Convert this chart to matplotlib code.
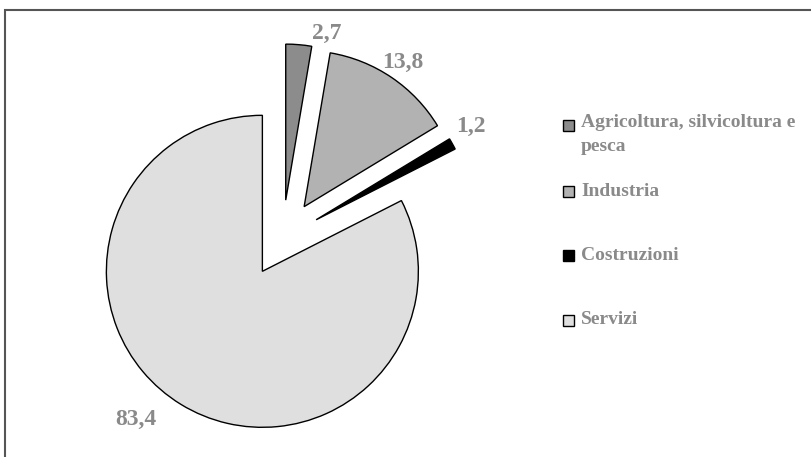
import math
import matplotlib
matplotlib.use("Agg")
import matplotlib.pyplot as plt
from matplotlib.patches import Rectangle

categories = ["Agricoltura, silvicoltura e\npesca", "Industria", "Costruzioni", "Servizi"]
values = [2.7, 13.8, 1.2, 83.4]
value_labels = ["2,7", "13,8", "1,2", "83,4"]
colors = ["#8c8c8c", "#b2b2b2", "#000000", "#dfdfdf"]

W, H = 812, 457
fig = plt.figure(figsize=(W / 100, H / 100), dpi=100)
ax = fig.add_axes([0, 0, 1, 1])

font = ["Liberation Serif", "DejaVu Serif"]
label_color = "#8a8a8a"
R = 156

wedges, texts = ax.pie(
    values,
    labels=value_labels,
    colors=colors,
    startangle=90,
    counterclock=False,
    explode=[38.5] * len(values),
    radius=R,
    center=(282.5, H - 238.5),
    labeldistance=1.12,
    wedgeprops=dict(edgecolor="black", linewidth=1.0),
    textprops=dict(fontsize=17, fontweight="bold", color=label_color, family=font),
)

# label placement (Excel-like "outside end" with small nudges)
angle_shift = [-9, 0, 2, -9]      # degrees
dist_factor = [1.10, 1.12, 1.155, 1.25]
for w, t, da, df in zip(wedges, texts, angle_shift, dist_factor):
    mid = math.radians((w.theta1 + w.theta2) / 2 + da)
    cx, cy = w.center
    t.set_position((cx + df * R * math.cos(mid), cy + df * R * math.sin(mid)))
    t.set_ha("center")
    t.set_va("center")

ax.set_xlim(0, W)
ax.set_ylim(0, H)
ax.set_aspect("equal")
ax.axis("off")

# chart border (extends past right and bottom edges)
ax.add_patch(Rectangle((5, -20), W + 20, H - 10 + 20, fill=False,
                       edgecolor="#555555", linewidth=1.5, clip_on=False))

# clipped title descender at the top
ax.text(87, H + 8, "g", fontsize=14, color="#8a8a8a", family=font,
        ha="center", va="baseline")

# legend
leg_y = [125, 191, 255, 320]
sq = 11
for cat, col, y in zip(categories, colors, leg_y):
    ax.add_patch(Rectangle((563, H - y - sq / 2), sq, sq, facecolor=col,
                           edgecolor="black", linewidth=1.0))
    if "\n" in cat:
        ax.text(581, H - y + 11, cat, fontsize=14, fontweight="bold",
                color=label_color, family=font, ha="left", va="top",
                linespacing=1.5)
    else:
        ax.text(581, H - y, cat, fontsize=14, fontweight="bold",
                color=label_color, family=font, ha="left", va="center")

fig.savefig("out.png", dpi=100)
